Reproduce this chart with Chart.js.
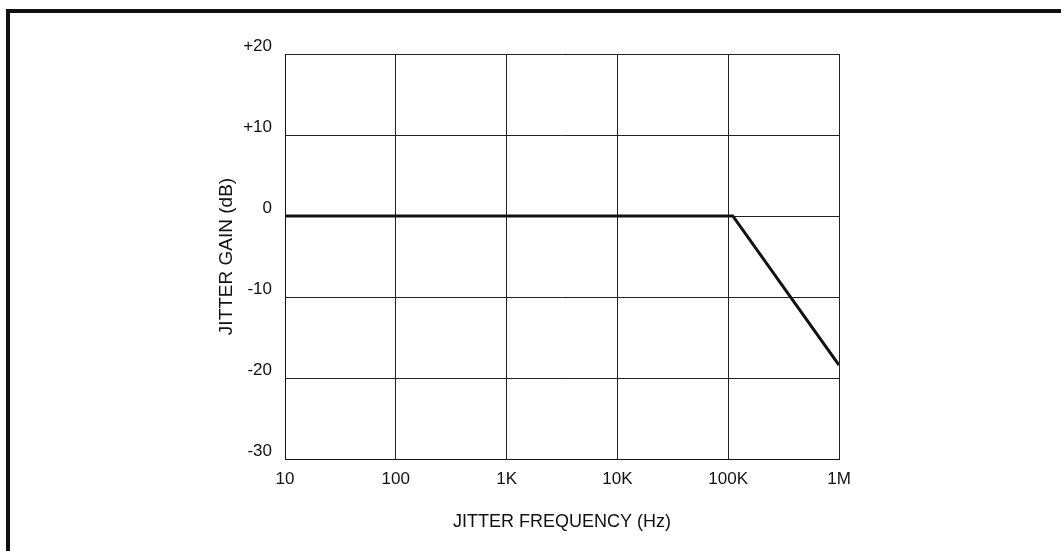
<!DOCTYPE html>
<html>
<head>
<meta charset="utf-8">
<style>
  html, body { margin: 0; padding: 0; background: #fff; }
  #wrap { width: 1061px; height: 551px; }
</style>
<script src="https://cdn.jsdelivr.net/npm/chart.js@4/dist/chart.umd.min.js"></script>
</head>
<body>
<div id="wrap"><canvas id="myChart" width="1061" height="551"></canvas></div>
<script>
// jitter transfer curve
var freqs = [10, 110000, 1000000];
var gains = [0, 0, -18.4];

var xTicks = [10, 100, 1000, 10000, 100000, 1000000];
var xTickLabels = ["10", "100", "1K", "10K", "100K", "1M"];
var yTicks = [-30, -20, -10, 0, 10, 20];
var yTickLabels = ["-30", "-20", "-10", "0", "+10", "+20"];

var points = freqs.map(function (f, i) { return {x: f, y: gains[i]}; });

// thick frame on left and top of the figure
var framePlugin = {
    id: 'frame',
    beforeDraw: function (chart) {
        var c = chart.ctx;
        c.save();
        c.fillStyle = '#fff';
        c.fillRect(0, 0, chart.width, chart.height);
        c.fillStyle = '#111';
        c.fillRect(6, 9, chart.width - 6, 4);
        c.fillRect(6, 9, 4, chart.height - 9);
        c.restore();
    }
};

var ctx = document.getElementById('myChart').getContext('2d');
var myChart = new Chart(ctx, {
    type: 'line',
    data: {
        datasets: [
            { data: points, borderColor: "#111", borderWidth: 3, pointRadius: 0, tension: 0, fill: false }
        ]
    },
    plugins: [framePlugin],
    options: {
        responsive: false,
        animation: false,
        events: [],
        layout: { padding: { left: 0, top: 54, right: 222, bottom: 0 } },
        plugins: { legend: { display: false }, tooltip: { enabled: false } },
        scales: {
            x: {
                type: 'logarithmic',
                min: 10,
                max: 1000000,
                afterBuildTicks: function (scale) {
                    scale.ticks = xTicks.map(function (v) { return {value: v}; });
                },
                afterFit: function (scale) { scale.height = 92; },
                border: { color: '#111', width: 1 },
                grid: { color: '#222', lineWidth: 1, drawTicks: false },
                ticks: {
                    autoSkip: false,
                    maxRotation: 0,
                    padding: 10,
                    color: '#111',
                    font: { family: 'Liberation Sans', size: 17 },
                    callback: function (v) {
                        var i = xTicks.indexOf(v);
                        return i >= 0 ? xTickLabels[i] : '';
                    }
                },
                title: {
                    display: true,
                    text: "JITTER FREQUENCY (Hz)",
                    color: '#111',
                    font: { family: 'Liberation Sans', size: 18 },
                    padding: { top: 18, bottom: 18 }
                }
            },
            y: {
                min: -30,
                max: 20,
                afterBuildTicks: function (scale) {
                    scale.ticks = yTicks.map(function (v) { return {value: v}; });
                },
                afterFit: function (scale) { scale.width = 285; },
                border: { color: '#111', width: 1 },
                grid: { color: '#222', lineWidth: 1, drawTicks: false },
                ticks: {
                    padding: 13,
                    labelOffset: -8,
                    color: '#111',
                    font: { family: 'Liberation Sans', size: 17 },
                    callback: function (v) {
                        var i = yTicks.indexOf(v);
                        return i >= 0 ? yTickLabels[i] : '';
                    }
                },
                title: {
                    display: true,
                    text: "JITTER GAIN (dB)",
                    color: '#111',
                    font: { family: 'Liberation Sans', size: 19 },
                    padding: { top: 215, bottom: 215 }
                }
            }
        }
    }
});
</script>
</body>
</html>
